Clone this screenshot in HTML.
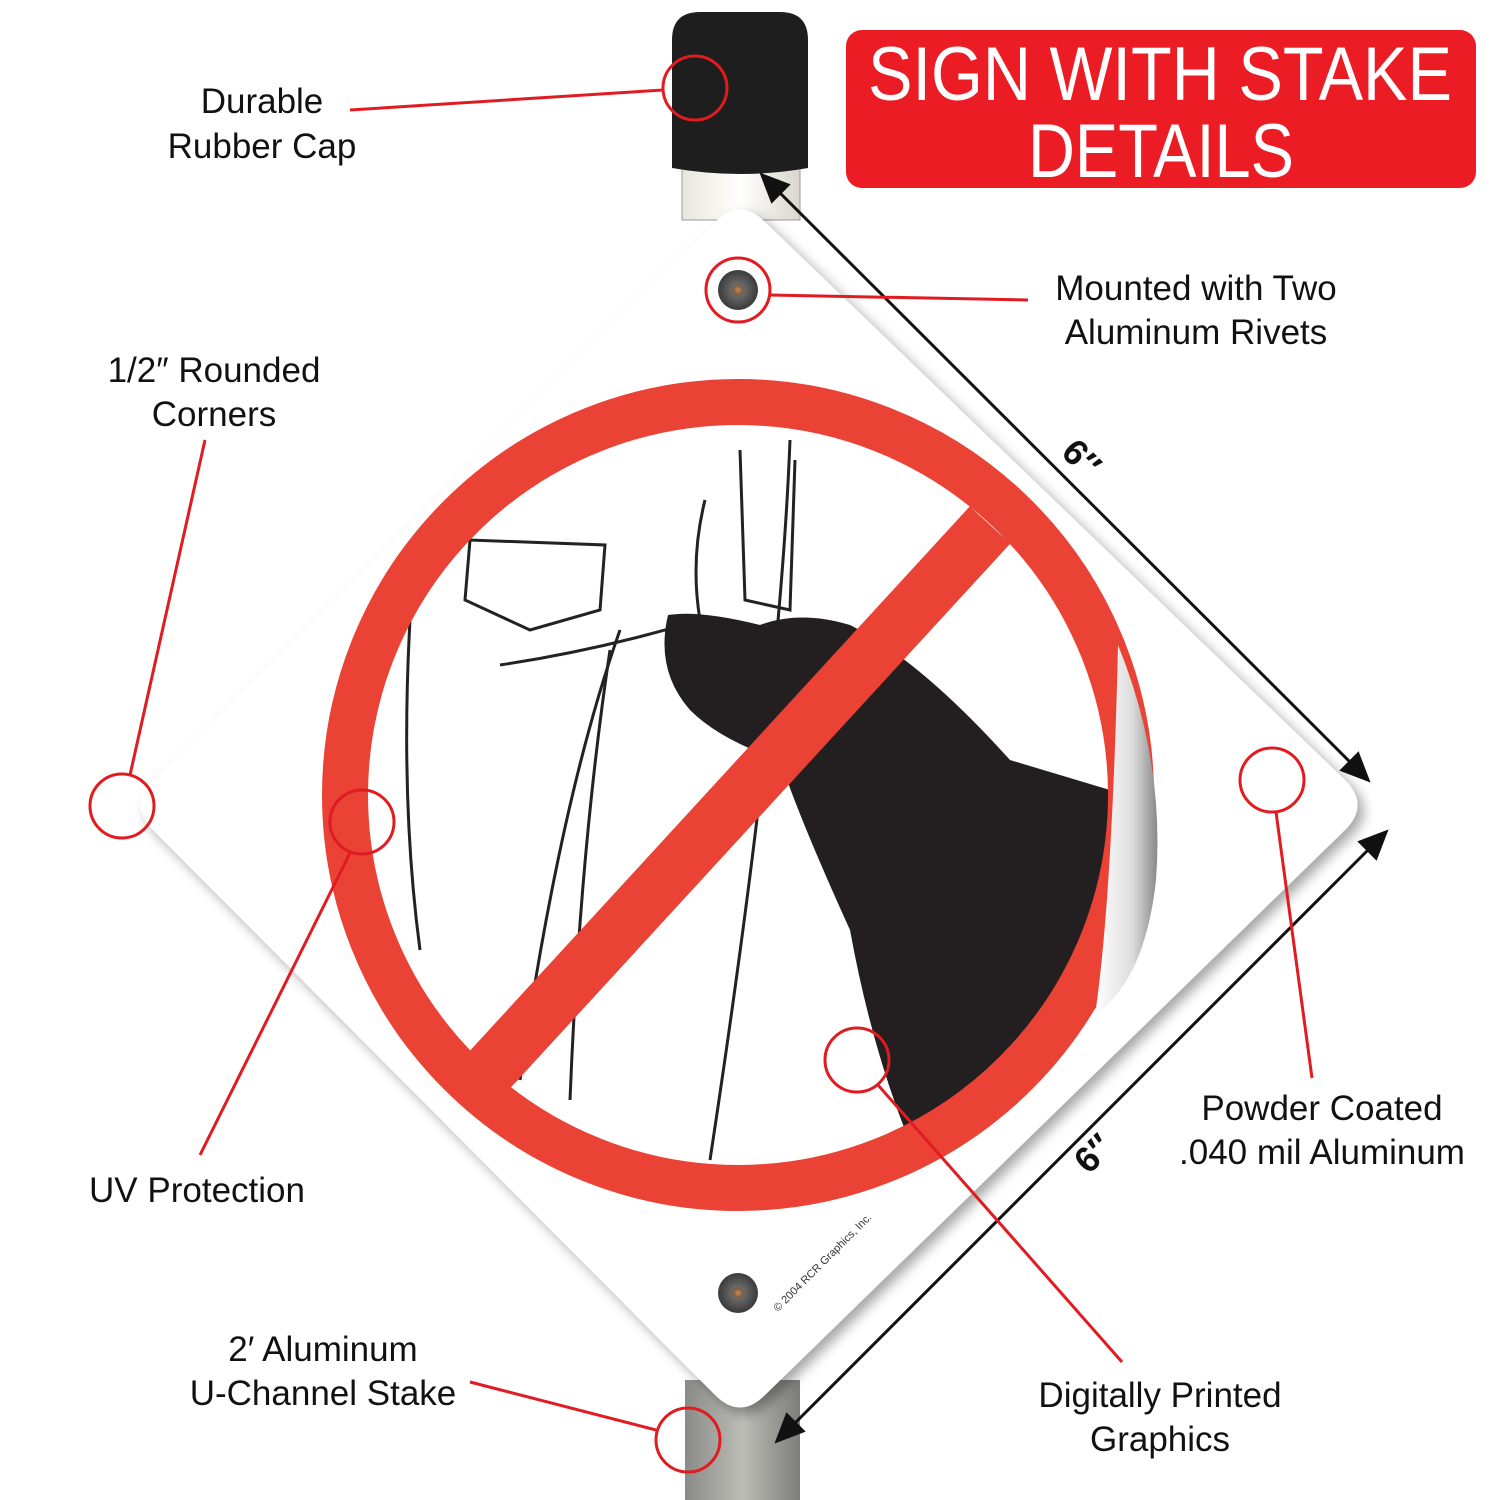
<!DOCTYPE html>
<html><head><meta charset="utf-8"><style>
html,body{margin:0;padding:0;background:#fff}
svg{display:block}
.lbl{font-family:"Liberation Sans",sans-serif;font-size:35px;fill:#111;text-anchor:middle}
.ttl{font-family:"Liberation Sans",sans-serif;font-size:76px;fill:#fff}
</style></head><body>
<svg width="1500" height="1500" viewBox="0 0 1500 1500" xmlns="http://www.w3.org/2000/svg">
<defs>
<linearGradient id="pole" x1="0" x2="1"><stop offset="0" stop-color="#8a8a86"/><stop offset="0.5" stop-color="#bdbdb8"/><stop offset="1" stop-color="#7d7d79"/></linearGradient>
<linearGradient id="pole2" x1="0" x2="1"><stop offset="0" stop-color="#e8e6dc"/><stop offset="0.5" stop-color="#fff"/><stop offset="1" stop-color="#d8d6cc"/></linearGradient>
<linearGradient id="peel" x1="0" x2="1"><stop offset="0" stop-color="#fff"/><stop offset="0.6" stop-color="#ddd"/><stop offset="1" stop-color="#888"/></linearGradient>
<radialGradient id="rivet"><stop offset="0" stop-color="#c98a50"/><stop offset="0.25" stop-color="#7a5a40"/><stop offset="0.3" stop-color="#6a6a6a"/><stop offset="1" stop-color="#3a3a3a"/></radialGradient>
<filter id="sh" x="-10%" y="-10%" width="130%" height="130%"><feDropShadow dx="6" dy="6" stdDeviation="6" flood-color="#000" flood-opacity="0.35"/></filter>
</defs>
<rect x="685" y="1380" width="115" height="120" fill="url(#pole)"/>
<rect x="682" y="160" width="118" height="60" fill="url(#pole2)" stroke="#999"/>
<path d="M672,40 Q672,12 700,12 L780,12 Q808,12 808,40 L808,168 Q740,180 672,168 Z" fill="#1e1e1e"/>
<path d="M715,222 Q740,197 765,222 L1345,780 Q1370,805 1345,830 L765,1395 Q740,1420 715,1395 L153,830 Q128,805 153,780 Z" fill="#fff" filter="url(#sh)"/>
<g fill="none" stroke="#222" stroke-width="3">
<path d="M470,540 L465,600 L530,630 L600,610 L605,545 Z"/>
<path d="M740,450 L745,600 L790,610 L795,460"/>
<path d="M410,620 Q400,800 420,950"/>
<path d="M500,665 Q600,650 700,620"/>
<path d="M620,630 Q560,800 520,1080"/>
<path d="M610,650 Q580,850 570,1100"/>
<path d="M790,440 Q780,700 710,1160"/>
<path d="M705,500 Q690,560 700,620"/>
</g>
<path d="M668,615 Q700,610 760,625 Q800,610 850,625 Q920,660 1010,760 L1110,790 L1105,1000 Q1000,1090 905,1130 Q870,1040 850,930 Q800,820 780,760 Q720,740 690,710 Q655,670 668,615 Z" fill="#231f20"/>
<circle cx="738" cy="795" r="393" fill="none" stroke="#ea4235" stroke-width="46"/>
<line x1="485" y1="1075" x2="990" y2="525" stroke="#ea4235" stroke-width="55"/>
<path d="M1118,645 Q1165,760 1156,880 Q1145,980 1095,1015 Q1112,900 1118,645 Z" fill="url(#peel)"/>
<circle cx="738" cy="290" r="20" fill="url(#rivet)"/>
<circle cx="738" cy="1293" r="20" fill="url(#rivet)"/>
<text x="825" y="1265" font-family="Liberation Sans" font-size="11" fill="#333" transform="rotate(-45 825 1265)" text-anchor="middle">© 2004 RCR Graphics, Inc.</text>
<rect x="846" y="30" width="630" height="158" rx="16" fill="#ec1c24"/>
<text class="ttl" x="868" y="100" textLength="584" lengthAdjust="spacingAndGlyphs">SIGN WITH STAKE</text>
<text class="ttl" x="1028" y="177" textLength="266" lengthAdjust="spacingAndGlyphs">DETAILS</text>
<g stroke="#111" stroke-width="3" fill="#111">
<line x1="770" y1="183" x2="1360" y2="772"/>
<path d="M762,175 L788,185 L772,201 Z"/>
<path d="M1368,780 L1342,770 L1358,754 Z"/>
<line x1="1378" y1="840" x2="785" y2="1433"/>
<path d="M1386,832 L1376,858 L1360,842 Z"/>
<path d="M777,1441 L787,1415 L803,1431 Z"/>
</g>
<text x="1080" y="470" font-family="Liberation Sans" font-weight="bold" font-size="36" fill="#111" transform="rotate(45 1080 460)" text-anchor="middle">6″</text>
<text x="1095" y="1165" font-family="Liberation Sans" font-weight="bold" font-size="36" fill="#111" transform="rotate(-45 1095 1155)" text-anchor="middle">6″</text>
<g fill="none" stroke="#e11b22" stroke-width="3">
<circle cx="695" cy="88" r="32"/><line x1="350" y1="110" x2="663" y2="90"/>
<circle cx="738" cy="290" r="32"/><line x1="770" y1="295" x2="1028" y2="300"/>
<circle cx="122" cy="806" r="32"/><line x1="205" y1="440" x2="130" y2="775"/>
<circle cx="362" cy="822" r="32"/><line x1="200" y1="1155" x2="350" y2="853"/>
<circle cx="1272" cy="780" r="32"/><line x1="1276" y1="812" x2="1312" y2="1078"/>
<circle cx="857" cy="1060" r="32"/><line x1="878" y1="1085" x2="1122" y2="1362"/>
<circle cx="688" cy="1440" r="32"/><line x1="470" y1="1382" x2="656" y2="1430"/>
</g>
<text class="lbl" x="262" y="113">Durable</text>
<text class="lbl" x="262" y="158">Rubber Cap</text>
<text class="lbl" x="1196" y="300">Mounted with Two</text>
<text class="lbl" x="1196" y="344">Aluminum Rivets</text>
<text class="lbl" x="214" y="382">1/2″ Rounded</text>
<text class="lbl" x="214" y="426">Corners</text>
<text class="lbl" x="197" y="1202">UV Protection</text>
<text class="lbl" x="1322" y="1120">Powder Coated</text>
<text class="lbl" x="1322" y="1164">.040 mil Aluminum</text>
<text class="lbl" x="323" y="1361">2′ Aluminum</text>
<text class="lbl" x="323" y="1405">U-Channel Stake</text>
<text class="lbl" x="1160" y="1407">Digitally Printed</text>
<text class="lbl" x="1160" y="1451">Graphics</text>
</svg>
</body></html>
